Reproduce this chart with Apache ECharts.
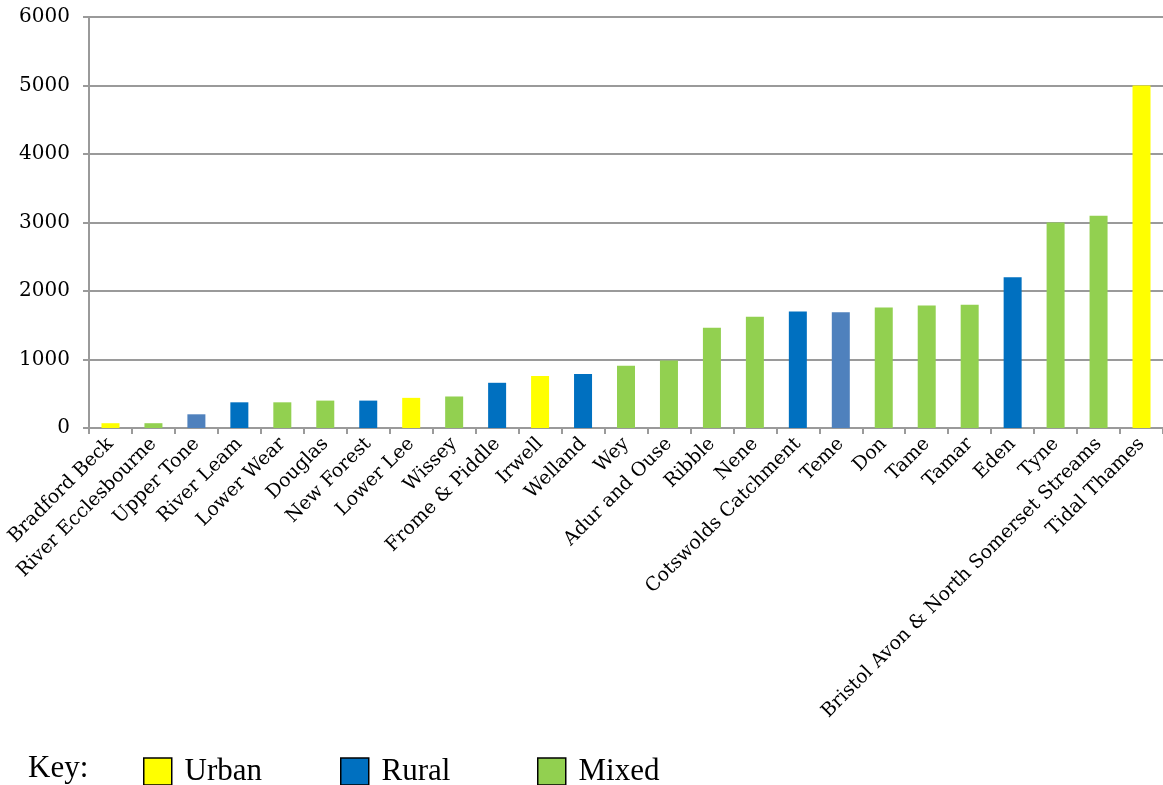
<!DOCTYPE html>
<html>
<head>
<meta charset="utf-8">
<title>Catchments</title>
<script src="https://cdn.jsdelivr.net/npm/echarts@6/dist/echarts.min.js"></script>
<style>
  html, body { margin: 0; padding: 0; background: #fff; }
  #chart { width: 1163px; height: 785px; }
</style>
</head>
<body>
<div id="chart"></div>
<script>
// Catchment names, in ascending order of value
const categories = [
  'Bradford Beck', 'River Ecclesbourne', 'Upper Tone', 'River Leam', 'Lower Wear',
  'Douglas', 'New Forest', 'Lower Lee', 'Wissey', 'Frome & Piddle', 'Irwell',
  'Welland', 'Wey', 'Adur and Ouse', 'Ribble', 'Nene', 'Cotswolds Catchment',
  'Teme', 'Don', 'Tame', 'Tamar', 'Eden', 'Tyne',
  'Bristol Avon & North Somerset Streams', 'Tidal Thames'
];

const values = [
  70, 70, 200, 375, 375,
  400, 400, 440, 460, 660, 760,
  790, 910, 985, 1465, 1625, 1700,
  1690, 1760, 1790, 1800, 2200, 3000,
  3100, 5000
];

// Land-use class of each catchment
const types = [
  'Urban', 'Mixed', 'Rural', 'Rural', 'Mixed',
  'Mixed', 'Rural', 'Urban', 'Mixed', 'Rural', 'Urban',
  'Rural', 'Mixed', 'Mixed', 'Mixed', 'Mixed', 'Rural',
  'Rural', 'Mixed', 'Mixed', 'Mixed', 'Rural', 'Mixed',
  'Mixed', 'Urban'
];

// Rural catchments drawn in the lighter blue
const lightRural = ['Upper Tone', 'Teme'];

const keyNames = ['Urban', 'Rural', 'Mixed'];
const yTicks = [0, 1000, 2000, 3000, 4000, 5000, 6000];

const colours = { Urban: '#FFFF00', Rural: '#0070C0', Mixed: '#92D050' };
const lightRuralColour = '#4F81BD';

const axisGrey = '#9a9a9a';
const serif = '"DejaVu Serif", Georgia, serif';
const keyFont = '"Liberation Serif", "Times New Roman", serif';

const series = keyNames.map(function (k) {
  return {
    name: k,
    type: 'bar',
    stack: 'all',
    barWidth: 18,
    itemStyle: { color: colours[k] },
    data: categories.map(function (c, i) {
      if (types[i] !== k) return '-';
      if (lightRural.indexOf(c) >= 0) {
        return { value: values[i], itemStyle: { color: lightRuralColour } };
      }
      return values[i];
    })
  };
});

// One key entry per land-use class, spaced along the bottom
const keyLeft = [143, 340, 537];
const legends = keyNames.map(function (k, i) {
  return {
    data: [k],
    left: keyLeft[i],
    top: 756,
    padding: 0,
    itemWidth: 28,
    itemHeight: 27,
    icon: 'rect',
    formatter: ' {name}',
    itemStyle: { borderColor: '#000', borderWidth: 1.5 },
    textStyle: {
      fontFamily: keyFont,
      fontSize: 31,
      color: '#000'
    }
  };
});

const chart = echarts.init(document.getElementById('chart'), null, { renderer: 'canvas' });

chart.setOption({
  animation: false,
  backgroundColor: '#fff',
  title: {
    text: 'Key:',
    left: 28,
    top: 753,
    padding: 0,
    textStyle: {
      fontFamily: keyFont,
      fontWeight: 'normal',
      fontSize: 31,
      color: '#000'
    }
  },
  legend: legends,
  grid: {
    left: 89,
    right: -4,
    top: 17,
    bottom: 357,
    containLabel: false
  },
  xAxis: {
    type: 'category',
    data: categories,
    boundaryGap: true,
    axisLine: { show: true, lineStyle: { color: axisGrey, width: 2 } },
    axisTick: { show: true, alignWithLabel: false, length: 6, lineStyle: { color: axisGrey, width: 2 } },
    axisLabel: {
      interval: 0,
      rotate: 45,
      margin: 13,
      fontFamily: serif,
      fontSize: 19,
      color: '#000'
    }
  },
  yAxis: {
    type: 'value',
    min: yTicks[0],
    max: yTicks[yTicks.length - 1],
    interval: 1000,
    axisLine: { show: true, lineStyle: { color: axisGrey, width: 2 } },
    axisTick: { show: true, length: 6, inside: false, lineStyle: { color: axisGrey, width: 2 } },
    splitLine: { show: true, lineStyle: { color: axisGrey, width: 2 } },
    axisLabel: {
      margin: 19,
      fontFamily: serif,
      fontSize: 20,
      color: '#000',
      formatter: function (v) { return String(v); }
    }
  },
  series: series
});
</script>
</body>
</html>
